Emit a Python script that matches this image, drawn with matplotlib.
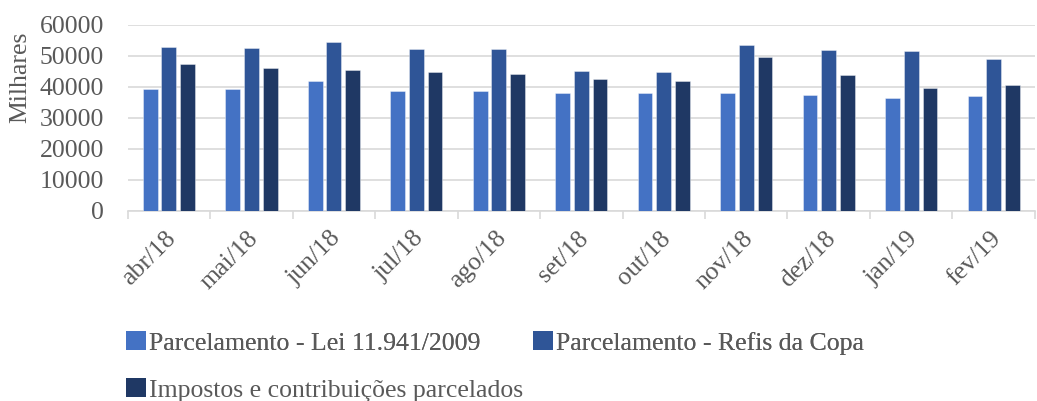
import matplotlib
matplotlib.use("Agg")
import matplotlib.pyplot as plt
import matplotlib.transforms as mtransforms
import numpy as np
from matplotlib.patches import Patch

categories = ["abr/18", "mai/18", "jun/18", "jul/18", "ago/18", "set/18",
              "out/18", "nov/18", "dez/18", "jan/19", "fev/19"]
series_names = ["Parcelamento - Lei 11.941/2009",
                "Parcelamento - Refis da Copa",
                "Impostos e contribuições parcelados"]
lei = [39250, 39140, 41940, 38710, 38490, 38060, 37850, 38060, 37420, 36340, 36880]
refis = [52700, 52470, 54300, 52150, 52040, 45050, 44840, 53440, 51720, 51500, 48820]
impostos = [47300, 46020, 45380, 44730, 43980, 42370, 41830, 49680, 43660, 39680, 40650]
yticks = [0, 10000, 20000, 30000, 40000, 50000, 60000]

colors = ["#4472C4", "#2F5597", "#1F3864"]
text_color = "#595959"
grid_color = "#D9D9D9"
fs = 18.5

plt.rcParams["font.family"] = ["Liberation Serif", "DejaVu Serif"]

fig = plt.figure(figsize=(10.37, 4.01), dpi=100)
ax = fig.add_axes([0.1231, 0.4746, 0.8749, 0.4638])

x = np.arange(len(categories))
w = 0.18
step = 0.227
for i, vals in enumerate([lei, refis, impostos]):
    ax.bar(x + (i - 1) * step, vals, width=w, color=colors[i],
           edgecolor=(1, 1, 1, 0.45), linewidth=0.6, zorder=3,
           label=series_names[i])

ax.set_xlim(-0.5, len(categories) - 0.5)
ax.set_ylim(0, 60000)
ax.set_yticks(yticks)
ax.set_yticklabels([str(v) for v in yticks], fontsize=fs, color=text_color)
ax.yaxis.grid(True, color=grid_color, linewidth=1.2, zorder=0)
ax.tick_params(axis="y", length=0, pad=17)

ax.set_xticks(x)
ax.set_xticklabels(categories, rotation=45, ha="right", rotation_mode="anchor",
                   fontsize=fs, color=text_color)
ax.tick_params(axis="x", which="major", length=0, pad=12)
offset = mtransforms.ScaledTranslation(-4 / 100, 0, fig.dpi_scale_trans)
for lab in ax.get_xticklabels():
    lab.set_transform(lab.get_transform() + offset)
ax.set_xticks(np.arange(-0.5, len(categories) + 0.5, 1), minor=True)
ax.tick_params(axis="x", which="minor", length=6, width=1.2, color=grid_color)

for s in ["top", "right", "left"]:
    ax.spines[s].set_visible(False)
ax.spines["bottom"].set_color(grid_color)
ax.spines["bottom"].set_linewidth(1.2)

ax.set_ylabel("Milhares", fontsize=fs, color=text_color)
ax.yaxis.set_label_coords(-0.106, 0.716)

handles = [Patch(facecolor=c, edgecolor="none") for c in colors]
leg1 = fig.legend(handles[:2], series_names[:2], loc="center left",
                  bbox_to_anchor=(0.0995, 0.145), ncol=2, frameon=False,
                  fontsize=fs, handlelength=0.75, handleheight=0.75,
                  handletextpad=0.12, columnspacing=2.08, labelcolor=text_color)
fig.legend(handles[2:], series_names[2:], loc="center left",
           bbox_to_anchor=(0.0995, 0.027), frameon=False,
           fontsize=fs, handlelength=0.75, handleheight=0.75,
           handletextpad=0.12, labelcolor=text_color)
fig.add_artist(leg1)

fig.savefig("out.png", dpi=100)
